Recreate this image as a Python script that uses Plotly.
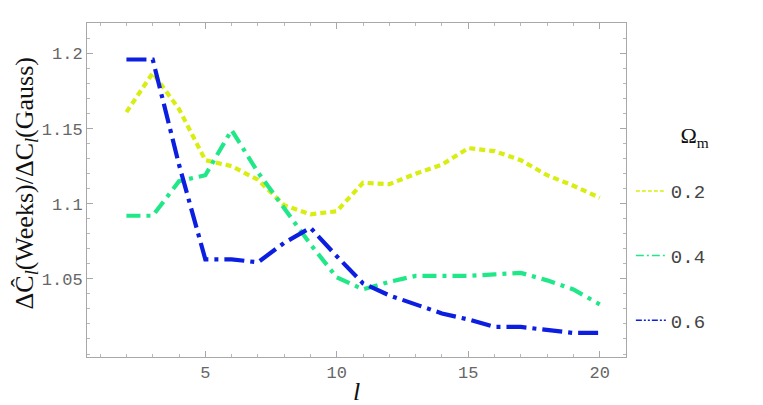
import plotly.graph_objects as go

ell = list(range(2, 21))
omega_labels = ["0.2", "0.4", "0.6"]
ratio_02 = [1.161, 1.187, 1.163, 1.129, 1.125, 1.116, 1.099, 1.093, 1.095, 1.114,
            1.113, 1.120, 1.126, 1.137, 1.135, 1.129, 1.119, 1.112, 1.104]
ratio_04 = [1.092, 1.092, 1.115, 1.119, 1.149, 1.121, 1.097, 1.073, 1.051, 1.043,
            1.048, 1.052, 1.052, 1.052, 1.053, 1.054, 1.049, 1.043, 1.033]
ratio_06 = [1.196, 1.196, 1.126, 1.063, 1.063, 1.061, 1.074, 1.084, 1.065, 1.047,
            1.039, 1.033, 1.027, 1.023, 1.018, 1.018, 1.016, 1.014, 1.014]
x_ticks = [5, 10, 15, 20]
y_ticks = [1.05, 1.1, 1.15, 1.2]
y_tick_text = ["1.05", "1.1", "1.15", "1.2"]

series = [
    (ratio_02, "#d8ee10", "6px,4px", "4px,2px"),
    (ratio_04, "#20e888", "14px,6px,4px,6px", "8px,3px,2px,3px"),
    (ratio_06, "#0c1ee0", "20px,6px,4px,6px", "6px,2px,2px,2px,2px,2px"),
]

fig = go.Figure()
for i, (vals, col, dash, ldash) in enumerate(series):
    fig.add_trace(go.Scatter(
        x=ell, y=vals, mode="lines", name=omega_labels[i], showlegend=False,
        line=dict(color=col, width=4.2, dash=dash),
    ))
    # legend-only entry with a thin sample line, like the reference key
    fig.add_trace(go.Scatter(
        x=[None], y=[None], mode="lines", name=omega_labels[i],
        legendgroup=f"g{i}",
        line=dict(color=col, width=1.5, dash=ldash),
    ))

axis_common = dict(
    showline=True, linecolor="#a8a8a8", linewidth=1, mirror="ticks",
    ticks="inside", ticklen=6, tickcolor="#a8a8a8", showgrid=False, zeroline=False,
    automargin=False,
    tickfont=dict(family="Liberation Mono, Courier New, monospace", size=17, color="#666666"),
)

fig.update_xaxes(
    range=[0.5, 21.0], tickvals=x_ticks,
    minor=dict(dtick=1, tick0=0, ticks="inside", ticklen=3, tickcolor="#b8b8b8"),
    **axis_common,
)
fig.update_yaxes(
    range=[0.998, 1.2203], tickvals=y_ticks, ticktext=y_tick_text,
    minor=dict(dtick=0.01, tick0=1.0, ticks="inside", ticklen=3, tickcolor="#b8b8b8"),
    **axis_common,
)

serif = "Liberation Serif, Times New Roman, serif"
fig.add_annotation(
    text="<i>l</i>", xref="paper", yref="paper", x=0.5, y=-0.103,
    xanchor="center", yanchor="middle", showarrow=False,
    font=dict(family=serif, size=26, color="#111111"),
)
fig.add_annotation(
    text="ΔĈ<sub><i>l</i></sub>(Weeks)/ΔC<sub><i>l</i></sub>(Gauss)",
    xref="paper", yref="paper", x=-0.113, y=0.52, textangle=-90,
    xanchor="center", yanchor="middle", showarrow=False,
    font=dict(family=serif, size=26, color="#111111"),
)

fig.update_layout(
    width=763, height=405,
    margin=dict(l=79, r=145, t=15, b=56),
    paper_bgcolor="white", plot_bgcolor="white",
    legend=dict(
        x=1.009, y=0.725, xanchor="left", yanchor="top",
        tracegroupgap=37, itemwidth=30,
        font=dict(family="Liberation Mono, Courier New, monospace", size=19, color="#444444"),
        title=dict(text="Ω<sub>m</sub><br> ", side="top right",
                   font=dict(family=serif, size=22, color="#111111")),
        bgcolor="rgba(0,0,0,0)",
    ),
)

fig.write_html("out.html")
